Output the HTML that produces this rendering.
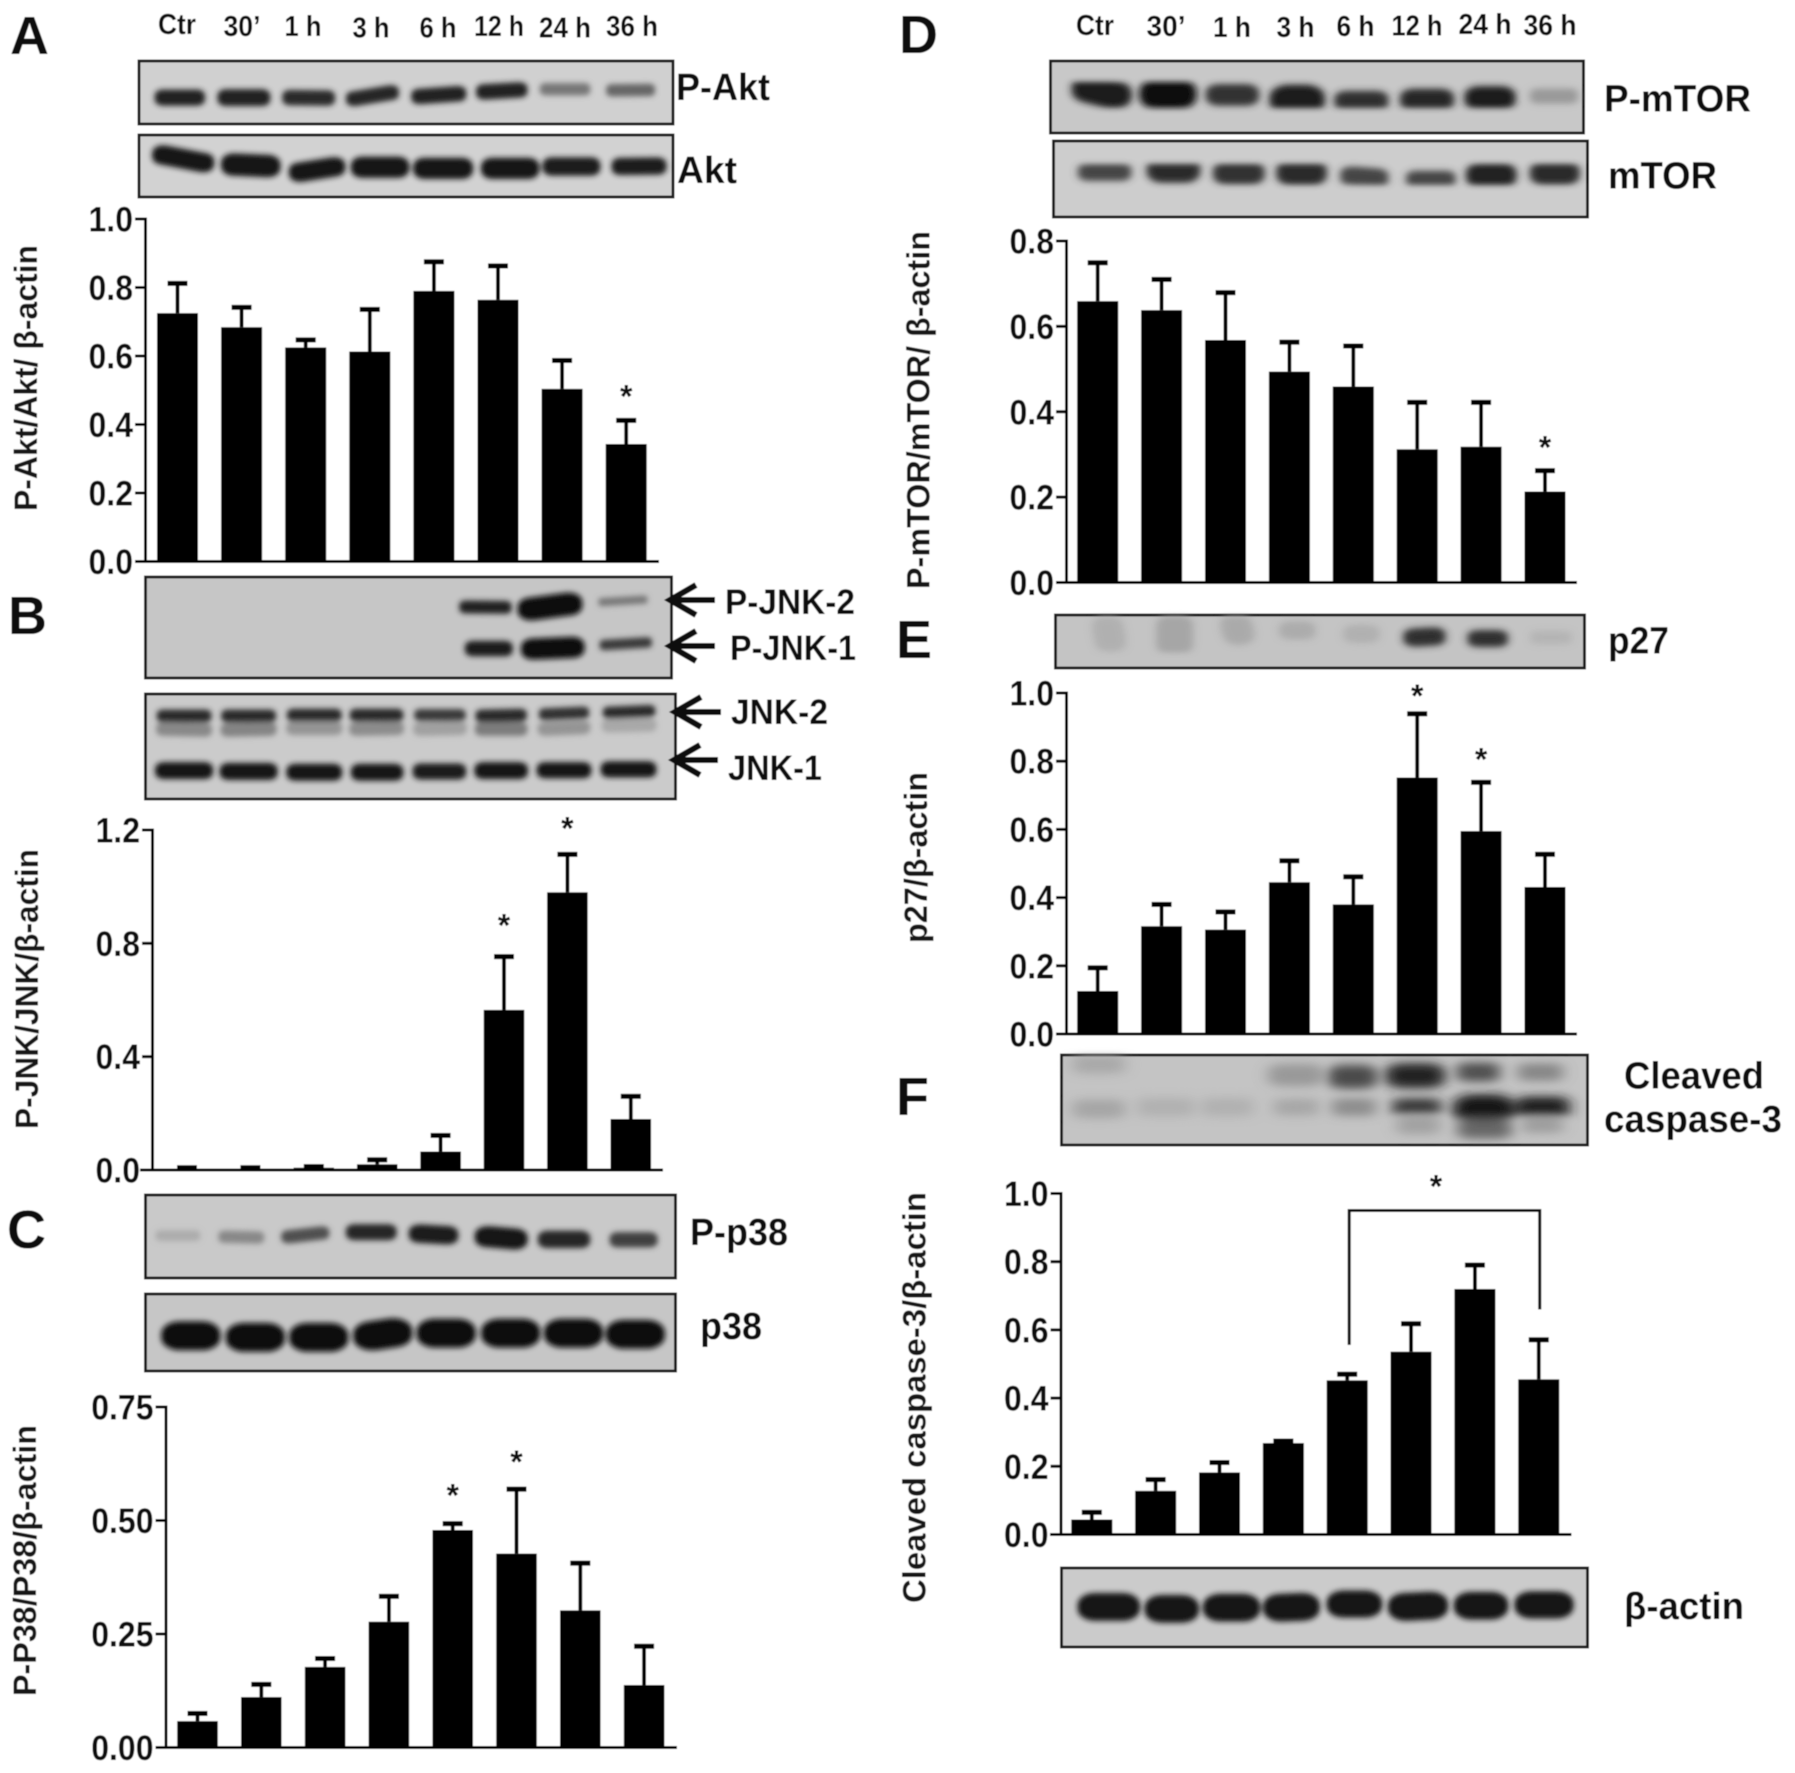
<!DOCTYPE html>
<html lang="en">
<head>
<meta charset="utf-8">
<title>Western blots and densitometry time course</title>
<style>
html,body{margin:0;padding:0;background:#fff;}
svg{display:block;}
text{font-family:"Liberation Sans",sans-serif;font-weight:bold;fill:#0a0a0a;}
.letter{font-size:54px;}
.lane{font-size:29px;text-anchor:middle;}
.prot{font-size:38px;}
.jnk{font-size:35px;}
.ytitle{font-size:32px;text-anchor:middle;fill:#141414;}
.blot{stroke:#1a1a1a;stroke-width:3;}
.bands line{stroke-linecap:round;}
.arrow{fill:none;stroke:#0a0a0a;stroke-width:6;}
</style>
</head>
<body>
<svg id="fig" width="1795" height="1773" viewBox="0 0 1795 1773" xmlns="http://www.w3.org/2000/svg">
<defs>
<filter id="soft" x="0" y="0" width="100%" height="100%" filterUnits="objectBoundingBox"><feGaussianBlur stdDeviation="0.6"/></filter>
<filter id="bandblur" x="-5%" y="-20%" width="110%" height="140%"><feMorphology operator="dilate" radius="1 2.2"/><feGaussianBlur stdDeviation="2.6"/></filter>
<filter id="extra" x="-10%" y="-40%" width="120%" height="180%"><feGaussianBlur stdDeviation="5"/></filter>
<filter id="extra-strong" x="-10%" y="-40%" width="120%" height="180%"><feGaussianBlur stdDeviation="11"/></filter>
<clipPath id="clip-f"><rect x="1062" y="1055" width="525" height="89"/></clipPath>
</defs>
<g id="root" filter="url(#soft)">
<rect x="0" y="0" width="1795" height="1773" fill="#fff"/>

<!-- Panel letters -->
<text class="letter" x="10" y="54">A</text>
<text class="letter" x="8" y="634">B</text>
<text class="letter" x="7" y="1248">C</text>
<text class="letter" x="899" y="53">D</text>
<text class="letter" x="896" y="658">E</text>
<text class="letter" x="896" y="1115">F</text>

<!-- Lane labels -->
<g>
<text class="lane" x="177" y="34" textLength="38" lengthAdjust="spacingAndGlyphs">Ctr</text>
<text class="lane" x="242" y="36" textLength="37" lengthAdjust="spacingAndGlyphs">30’</text>
<text class="lane" x="303" y="36" textLength="37" lengthAdjust="spacingAndGlyphs">1 h</text>
<text class="lane" x="371" y="37.5" textLength="37" lengthAdjust="spacingAndGlyphs">3 h</text>
<text class="lane" x="438" y="37.5" textLength="37" lengthAdjust="spacingAndGlyphs">6 h</text>
<text class="lane" x="499" y="36" textLength="50" lengthAdjust="spacingAndGlyphs">12 h</text>
<text class="lane" x="565" y="37.5" textLength="52" lengthAdjust="spacingAndGlyphs">24 h</text>
<text class="lane" x="632" y="36" textLength="52" lengthAdjust="spacingAndGlyphs">36 h</text>
</g>
<g>
<text class="lane" x="1095" y="35" textLength="38" lengthAdjust="spacingAndGlyphs">Ctr</text>
<text class="lane" x="1166" y="36" textLength="39" lengthAdjust="spacingAndGlyphs">30’</text>
<text class="lane" x="1232" y="37" textLength="38" lengthAdjust="spacingAndGlyphs">1 h</text>
<text class="lane" x="1295.5" y="37" textLength="38" lengthAdjust="spacingAndGlyphs">3 h</text>
<text class="lane" x="1355.5" y="36" textLength="38" lengthAdjust="spacingAndGlyphs">6 h</text>
<text class="lane" x="1417" y="35.5" textLength="51" lengthAdjust="spacingAndGlyphs">12 h</text>
<text class="lane" x="1485" y="34" textLength="53" lengthAdjust="spacingAndGlyphs">24 h</text>
<text class="lane" x="1550" y="35" textLength="53" lengthAdjust="spacingAndGlyphs">36 h</text>
</g>

<!-- Blot backgrounds -->
<rect class="blot" x="139" y="61" width="534" height="63" fill="#d0d0d0"/>
<rect class="blot" x="139" y="135" width="534" height="62" fill="#d2d2d2"/>
<rect class="blot" x="145.5" y="577" width="526" height="101" fill="#c6c6c6"/>
<rect class="blot" x="145.5" y="694" width="530" height="105" fill="#cbcbcb"/>
<rect class="blot" x="145.5" y="1195" width="530" height="83" fill="#c9c9c9"/>
<rect class="blot" x="145.5" y="1294" width="530" height="77" fill="#c6c6c6"/>
<rect class="blot" x="1050.5" y="61" width="533" height="72" fill="#c8c8c8"/>
<rect class="blot" x="1053.5" y="141" width="534" height="76" fill="#cdcdcd"/>
<rect class="blot" x="1055.5" y="615" width="529" height="53" fill="#c4c4c4"/>
<rect class="blot" x="1061.5" y="1055" width="526" height="90" fill="#c4c4c4"/>
<rect class="blot" x="1061.5" y="1568" width="526" height="79" fill="#cbcbcb"/>

<!-- Bands -->
<g filter="url(#bandblur)">
<g class="bands" transform="scale(.5102 .3827)">
<line x1="321" y1="255" x2="384" y2="255" stroke-width="32" stroke="#222"/>
<line x1="445" y1="255" x2="511" y2="255" stroke-width="34" stroke="#222"/>
<line x1="570" y1="255" x2="640" y2="256" stroke-width="30" stroke="#2a2a2a"/>
<line x1="694" y1="258" x2="766" y2="242" stroke-width="28" stroke="#262626"/>
<line x1="823" y1="252" x2="897" y2="245" stroke-width="30" stroke="#222"/>
<line x1="950" y1="240" x2="1017" y2="235" stroke-width="30" stroke="#222"/>
<line x1="1071" y1="233" x2="1144" y2="233" stroke-width="22" stroke="#777"/>
<line x1="1201" y1="236" x2="1271" y2="235" stroke-width="22" stroke="#666"/>
</g>
<g class="bands" transform="scale(.5102 .3827)">
<line x1="320" y1="405" x2="398" y2="425" stroke-width="40" stroke="#141414"/>
<line x1="459" y1="430" x2="524" y2="434" stroke-width="48" stroke="#141414"/>
<line x1="588" y1="450" x2="655" y2="436" stroke-width="40" stroke="#141414"/>
<line x1="712" y1="437" x2="778" y2="437" stroke-width="45" stroke="#141414"/>
<line x1="834" y1="440" x2="903" y2="440" stroke-width="45" stroke="#181818"/>
<line x1="967" y1="440" x2="1033" y2="440" stroke-width="45" stroke="#181818"/>
<line x1="1084" y1="435" x2="1156" y2="435" stroke-width="38" stroke="#1c1c1c"/>
<line x1="1218" y1="435" x2="1287" y2="434" stroke-width="35" stroke="#1c1c1c"/>
</g>
<g class="bands" transform="translate(0 560) scale(.5612 .4082)">
<line x1="831" y1="115" x2="899" y2="116" stroke-width="22" stroke="#222"/>
<line x1="947" y1="120" x2="1013" y2="108" stroke-width="46" stroke="#0e0e0e"/>
<line x1="1073" y1="103" x2="1147" y2="97" stroke-width="10" stroke="#777"/>
<line x1="844" y1="217" x2="898" y2="217" stroke-width="28" stroke="#1c1c1c"/>
<line x1="951" y1="218" x2="1019" y2="214" stroke-width="42" stroke="#0e0e0e"/>
<line x1="1078" y1="208" x2="1152" y2="202" stroke-width="16" stroke="#3a3a3a"/>
</g>
<g class="bands" transform="translate(0 560) scale(.5612 .4082)">
<line x1="292" y1="382" x2="364" y2="382" stroke-width="22" stroke="#2a2a2a"/>
<line x1="407" y1="382" x2="479" y2="382" stroke-width="22" stroke="#2a2a2a"/>
<line x1="524" y1="380" x2="596" y2="380" stroke-width="22" stroke="#2a2a2a"/>
<line x1="636" y1="380" x2="706" y2="380" stroke-width="22" stroke="#2a2a2a"/>
<line x1="750" y1="380" x2="818" y2="380" stroke-width="20" stroke="#3a3a3a"/>
<line x1="860" y1="382" x2="926" y2="380" stroke-width="22" stroke="#2a2a2a"/>
<line x1="972" y1="378" x2="1038" y2="374" stroke-width="20" stroke="#333"/>
<line x1="1086" y1="374" x2="1156" y2="370" stroke-width="20" stroke="#2a2a2a"/>
<line x1="292" y1="414" x2="364" y2="416" stroke-width="24" stroke="#888"/>
<line x1="407" y1="416" x2="479" y2="414" stroke-width="24" stroke="#848484"/>
<line x1="524" y1="412" x2="596" y2="412" stroke-width="24" stroke="#949494"/>
<line x1="636" y1="414" x2="706" y2="412" stroke-width="24" stroke="#8c8c8c"/>
<line x1="750" y1="414" x2="818" y2="412" stroke-width="24" stroke="#a0a0a0"/>
<line x1="860" y1="414" x2="926" y2="414" stroke-width="24" stroke="#7c7c7c"/>
<line x1="972" y1="414" x2="1038" y2="410" stroke-width="24" stroke="#949494"/>
<line x1="1086" y1="406" x2="1156" y2="404" stroke-width="24" stroke="#a8a8a8"/>
</g>
<g class="bands" transform="translate(0 560) scale(.5612 .4082)">
<line x1="294" y1="516" x2="362" y2="516" stroke-width="32" stroke="#161616"/>
<line x1="409" y1="518" x2="477" y2="518" stroke-width="32" stroke="#161616"/>
<line x1="528" y1="520" x2="592" y2="520" stroke-width="32" stroke="#161616"/>
<line x1="643" y1="520" x2="701" y2="520" stroke-width="32" stroke="#161616"/>
<line x1="752" y1="518" x2="814" y2="518" stroke-width="30" stroke="#1c1c1c"/>
<line x1="863" y1="516" x2="923" y2="516" stroke-width="32" stroke="#161616"/>
<line x1="973" y1="515" x2="1037" y2="515" stroke-width="30" stroke="#161616"/>
<line x1="1087" y1="513" x2="1153" y2="513" stroke-width="30" stroke="#161616"/>
</g>
<g class="bands" transform="translate(0 1180) scale(.5612 .3782)">
<line x1="288" y1="147" x2="346" y2="147" stroke-width="18" stroke="#acacac"/>
<line x1="402" y1="150" x2="458" y2="152" stroke-width="22" stroke="#888"/>
<line x1="515" y1="150" x2="573" y2="140" stroke-width="24" stroke="#505050"/>
<line x1="634" y1="138" x2="689" y2="138" stroke-width="32" stroke="#262626"/>
<line x1="749" y1="142" x2="796" y2="146" stroke-width="38" stroke="#1c1c1c"/>
<line x1="870" y1="150" x2="916" y2="156" stroke-width="45" stroke="#181818"/>
<line x1="978" y1="157" x2="1032" y2="157" stroke-width="36" stroke="#262626"/>
<line x1="1103" y1="158" x2="1155" y2="158" stroke-width="30" stroke="#404040"/>
</g>
<g class="bands" transform="translate(0 1180) scale(.5612 .3782)">
<line x1="322" y1="412" x2="358" y2="412" stroke-width="66" stroke="#111"/>
<line x1="437" y1="416" x2="473" y2="416" stroke-width="66" stroke="#111"/>
<line x1="550" y1="416" x2="586" y2="416" stroke-width="66" stroke="#111"/>
<line x1="664" y1="412" x2="700" y2="404" stroke-width="66" stroke="#111"/>
<line x1="777" y1="405" x2="813" y2="405" stroke-width="66" stroke="#111"/>
<line x1="892" y1="405" x2="928" y2="405" stroke-width="66" stroke="#111"/>
<line x1="1004" y1="405" x2="1040" y2="405" stroke-width="66" stroke="#111"/>
<line x1="1114" y1="408" x2="1150" y2="408" stroke-width="66" stroke="#111"/>
</g>
<g class="bands" filter="url(#extra)" transform="translate(880 0) scale(.5835 .3954)">
<line x1="360" y1="225" x2="400" y2="240" stroke-width="60" stroke="#1c1c1c"/>
<line x1="482" y1="238" x2="505" y2="238" stroke-width="72" stroke="#111"/>
<line x1="582" y1="240" x2="626" y2="240" stroke-width="45" stroke="#333"/>
<line x1="702" y1="252" x2="728" y2="252" stroke-width="66" stroke="#1c1c1c"/>
<line x1="800" y1="255" x2="850" y2="255" stroke-width="40" stroke="#2e2e2e"/>
<line x1="915" y1="252" x2="960" y2="252" stroke-width="45" stroke="#262626"/>
<line x1="1028" y1="248" x2="1063" y2="248" stroke-width="50" stroke="#1c1c1c"/>
<line x1="1129" y1="243" x2="1181" y2="243" stroke-width="28" stroke="#999"/>
</g>
<g class="bands" filter="url(#extra)" transform="translate(880 0) scale(.5835 .3954)">
<line x1="358" y1="435" x2="412" y2="435" stroke-width="35" stroke="#444"/>
<line x1="486" y1="430" x2="520" y2="430" stroke-width="55" stroke="#2a2a2a"/>
<line x1="596" y1="438" x2="634" y2="438" stroke-width="48" stroke="#333"/>
<line x1="708" y1="437" x2="737" y2="437" stroke-width="55" stroke="#2a2a2a"/>
<line x1="809" y1="445" x2="851" y2="450" stroke-width="38" stroke="#444"/>
<line x1="919" y1="453" x2="969" y2="453" stroke-width="32" stroke="#444"/>
<line x1="1033" y1="443" x2="1062" y2="443" stroke-width="55" stroke="#222"/>
<line x1="1140" y1="438" x2="1173" y2="438" stroke-width="50" stroke="#2a2a2a"/>
</g>
<g class="bands" filter="url(#extra)" transform="translate(880 600) scale(.5835 .3571)">
<line x1="390" y1="75" x2="395" y2="115" stroke-width="50" stroke="#b0b0b0"/>
<line x1="505" y1="75" x2="505" y2="120" stroke-width="60" stroke="#a6a6a6"/>
<line x1="610" y1="70" x2="615" y2="95" stroke-width="50" stroke="#aaa"/>
<line x1="705" y1="85" x2="725" y2="85" stroke-width="40" stroke="#acacac"/>
<line x1="815" y1="95" x2="835" y2="95" stroke-width="40" stroke="#b0b0b0"/>
<line x1="918" y1="105" x2="948" y2="102" stroke-width="40" stroke="#2e2e2e"/>
<line x1="1026" y1="108" x2="1057" y2="108" stroke-width="36" stroke="#2e2e2e"/>
<line x1="1128" y1="105" x2="1172" y2="105" stroke-width="25" stroke="#b4b4b4"/>
</g>
<g clip-path="url(#clip-f)">
<g class="bands" filter="url(#extra-strong)" transform="translate(880 600) scale(.5835 .3571)">
<line x1="350" y1="1300" x2="400" y2="1300" stroke-width="40" stroke="#a8a8a8"/>
<line x1="690" y1="1330" x2="735" y2="1330" stroke-width="50" stroke="#989898"/>
<line x1="795" y1="1335" x2="825" y2="1335" stroke-width="55" stroke="#484848"/>
<line x1="896" y1="1332" x2="939" y2="1332" stroke-width="58" stroke="#222"/>
<line x1="1008" y1="1322" x2="1042" y2="1322" stroke-width="40" stroke="#484848"/>
<line x1="1110" y1="1322" x2="1153" y2="1322" stroke-width="34" stroke="#808080"/>
<line x1="350" y1="1425" x2="400" y2="1425" stroke-width="40" stroke="#a4a4a4"/>
<line x1="460" y1="1420" x2="520" y2="1420" stroke-width="40" stroke="#b0b0b0"/>
<line x1="570" y1="1420" x2="620" y2="1420" stroke-width="40" stroke="#b0b0b0"/>
<line x1="692" y1="1420" x2="735" y2="1420" stroke-width="34" stroke="#a4a4a4"/>
<line x1="792" y1="1420" x2="832" y2="1420" stroke-width="35" stroke="#888"/>
<line x1="896" y1="1420" x2="944" y2="1420" stroke-width="36" stroke="#2e2e2e"/>
<line x1="905" y1="1470" x2="940" y2="1470" stroke-width="40" stroke="#a0a0a0"/>
<line x1="1018" y1="1425" x2="1052" y2="1425" stroke-width="70" stroke="#141414"/>
<line x1="1012" y1="1480" x2="1060" y2="1480" stroke-width="45" stroke="#666"/>
<line x1="1112" y1="1420" x2="1158" y2="1420" stroke-width="48" stroke="#1e1e1e"/>
<line x1="1115" y1="1470" x2="1155" y2="1470" stroke-width="30" stroke="#989898"/>
</g>
</g>
<g class="bands" transform="translate(880 1150) scale(.5835 .3973)">
<line x1="370" y1="1150" x2="414" y2="1150" stroke-width="60" stroke="#121212"/>
<line x1="485" y1="1155" x2="515" y2="1155" stroke-width="60" stroke="#121212"/>
<line x1="585" y1="1152" x2="620" y2="1152" stroke-width="60" stroke="#121212"/>
<line x1="688" y1="1152" x2="722" y2="1150" stroke-width="60" stroke="#121212"/>
<line x1="796" y1="1143" x2="830" y2="1143" stroke-width="58" stroke="#121212"/>
<line x1="902" y1="1150" x2="942" y2="1147" stroke-width="60" stroke="#121212"/>
<line x1="1015" y1="1147" x2="1045" y2="1147" stroke-width="60" stroke="#121212"/>
<line x1="1118" y1="1145" x2="1158" y2="1145" stroke-width="58" stroke="#121212"/>
</g>
</g>

<!-- Blot labels -->
<text class="prot" x="676" y="100" textLength="94" lengthAdjust="spacingAndGlyphs">P-Akt</text>
<text class="prot" x="677" y="183" textLength="60" lengthAdjust="spacingAndGlyphs">Akt</text>
<text class="jnk" x="725" y="614" textLength="130" lengthAdjust="spacingAndGlyphs">P-JNK-2</text>
<text class="jnk" x="730" y="660" textLength="126" lengthAdjust="spacingAndGlyphs">P-JNK-1</text>
<text class="jnk" x="731" y="724" textLength="97" lengthAdjust="spacingAndGlyphs">JNK-2</text>
<text class="jnk" x="728" y="780" textLength="94" lengthAdjust="spacingAndGlyphs">JNK-1</text>
<text class="prot" x="690" y="1245" textLength="98" lengthAdjust="spacingAndGlyphs">P-p38</text>
<text class="prot" x="700" y="1339" textLength="62" lengthAdjust="spacingAndGlyphs">p38</text>
<text class="prot" x="1604" y="111.5" textLength="147" lengthAdjust="spacingAndGlyphs">P-mTOR</text>
<text class="prot" x="1608" y="188.5" textLength="109" lengthAdjust="spacingAndGlyphs">mTOR</text>
<text class="prot" x="1608" y="653.5" textLength="61" lengthAdjust="spacingAndGlyphs">p27</text>
<text class="prot" x="1624" y="1088.5" textLength="140" lengthAdjust="spacingAndGlyphs">Cleaved</text>
<text class="prot" x="1604" y="1132" textLength="178" lengthAdjust="spacingAndGlyphs">caspase-3</text>
<text class="prot" x="1624" y="1619" textLength="120" lengthAdjust="spacingAndGlyphs" style="font-family:'Liberation Sans','DejaVu Sans',sans-serif">β-actin</text>

<!-- JNK arrows -->
<path class="arrow" d="M715 600H672M696 585L670 600L696 615"/>
<path class="arrow" d="M715 646H672M696 631L670 646L696 661"/>
<path class="arrow" d="M721 712H677M701 697L675 712L701 727"/>
<path class="arrow" d="M718 760H676M700 745L674 760L700 775"/>
</g>
</svg>
<script>
// ---- Chart data ----
const categories = ['Ctr', "30'", '1 h', '3 h', '6 h', '12 h', '24 h', '36 h'];

const aktTicks = ['0.0', '0.2', '0.4', '0.6', '0.8', '1.0'];
const aktValues = [0.725, 0.684, 0.625, 0.613, 0.79, 0.764, 0.504, 0.343];
const aktErrorTops = [0.812, 0.742, 0.647, 0.736, 0.875, 0.863, 0.587, 0.412];

const jnkTicks = ['0.0', '0.4', '0.8', '1.2'];
const jnkValues = [0.005, 0.005, 0.008, 0.02, 0.065, 0.565, 0.98, 0.18];
const jnkErrorTops = [0.008, 0.008, 0.012, 0.036, 0.122, 0.753, 1.114, 0.26];

const p38Ticks = ['0.00', '0.25', '0.50', '0.75'];
const p38Values = [0.058, 0.111, 0.1775, 0.277, 0.479, 0.427, 0.302, 0.1375];
const p38ErrorTops = [0.075, 0.139, 0.196, 0.333, 0.493, 0.569, 0.406, 0.223];

const mtorTicks = ['0.0', '0.2', '0.4', '0.6', '0.8'];
const mtorValues = [0.659, 0.638, 0.568, 0.494, 0.459, 0.312, 0.318, 0.213];
const mtorErrorTops = [0.749, 0.71, 0.679, 0.563, 0.554, 0.422, 0.422, 0.262];

const p27Ticks = ['0.0', '0.2', '0.4', '0.6', '0.8', '1.0'];
const p27Values = [0.126, 0.316, 0.306, 0.445, 0.38, 0.752, 0.595, 0.431];
const p27ErrorTops = [0.194, 0.38, 0.358, 0.508, 0.461, 0.939, 0.738, 0.527];

const caspaseTicks = ['0.0', '0.2', '0.4', '0.6', '0.8', '1.0'];
const caspaseValues = [0.044, 0.128, 0.182, 0.268, 0.452, 0.536, 0.72, 0.455];
const caspaseErrorTops = [0.065, 0.161, 0.211, 0.274, 0.47, 0.618, 0.79, 0.571];

const SVG_NS = 'http://www.w3.org/2000/svg';
const root = document.getElementById('root');

function make(tag, parent) {
  const el = document.createElementNS(SVG_NS, tag);
  parent.appendChild(el);
  return el;
}

function segment(parent, x, y, w, h) {
  const r = make('rect', parent);
  r.setAttribute('x', x);
  r.setAttribute('y', y);
  r.setAttribute('width', w);
  r.setAttribute('height', h);
  r.setAttribute('fill', '#000');
  return r;
}

function drawChart(opts) {
  const values = opts.values;
  const tops = opts.errorTops;
  const ticks = opts.ticks;
  const yMax = parseFloat(ticks[ticks.length - 1]);
  const yScale = function (v) { return opts.y0 + (opts.y1 - opts.y0) * (v / yMax); };
  const xScale = function (i) { return opts.firstCenter + opts.step * i; };

  const chart = make('g', root);
  
  

  categories.forEach(function (cat, i) {
    const cx = xScale(i);
    const bar = segment(chart, cx - opts.barWidth / 2, yScale(values[i]), opts.barWidth, opts.y0 - yScale(values[i]));
    
    

    const stem = segment(chart, cx - 1.9, yScale(tops[i]), 3.8, yScale(values[i]) - yScale(tops[i]));
    
    

    const cap = segment(chart, cx - 10, yScale(tops[i]) - 2.5, 20, 5);
    
    
  });

  const yAxis = segment(chart, opts.axisX - 1.5, opts.y1 - 1.5, 3, opts.y0 - opts.y1 + 3);
  
  

  const xAxis = segment(chart, opts.xAxisStart, opts.y0 - 1.5, opts.xAxisEnd - opts.xAxisStart, 3);
  
  

  ticks.forEach(function (label) {
    const ty = yScale(parseFloat(label));
    const tick = segment(chart, opts.axisX - 10.5, ty - 1.5, 10.5, 3);
    
    

    const t = make('text', chart);
    
    
    t.setAttribute('x', opts.axisX - 12.5);
    t.setAttribute('y', ty + 12.5);
    t.setAttribute('text-anchor', 'end');
    t.setAttribute('font-size', '35');
    t.setAttribute('textLength', ((label.length - 1) * 0.556 + 0.278) * 32);
    t.setAttribute('lengthAdjust', 'spacingAndGlyphs');
    t.textContent = label;
  });

  (opts.stars || []).forEach(function (s) {
    const star = make('text', chart);
    
    
    star.setAttribute('x', xScale(s[0]));
    star.setAttribute('y', yScale(tops[s[0]]) - s[1] + 15);
    star.setAttribute('text-anchor', 'middle');
    star.setAttribute('font-size', '32');
    star.textContent = '*';
  });

  const title = make('text', chart);
  
  
  title.setAttribute('class', 'ytitle');
  title.setAttribute('x', 0);
  title.setAttribute('y', 0);
  title.setAttribute('textLength', opts.titleLength);
  title.setAttribute('lengthAdjust', 'spacingAndGlyphs');
  title.setAttribute('transform', 'translate(' + opts.titleX + ' ' + opts.titleY + ') rotate(-90)');
  title.textContent = opts.title;

  if (opts.bracket) {
    const b = opts.bracket;
    const bracketPath = make('path', chart);
    
    
    bracketPath.setAttribute('fill', 'none');
    bracketPath.setAttribute('stroke', '#111');
    bracketPath.setAttribute('stroke-width', '3');
    bracketPath.setAttribute('d', 'M' + (xScale(b.from) + 2) + ' ' + yScale(b.leftEnd) + 'V' + yScale(b.top) + 'H' + (xScale(b.to) + 1) + 'V' + yScale(b.rightEnd));
    const bs = make('text', chart);
    
    
    bs.setAttribute('x', (xScale(b.from) + xScale(b.to)) / 2 - 7);
    bs.setAttribute('y', yScale(b.top) - 28 + 15);
    bs.setAttribute('text-anchor', 'middle');
    bs.setAttribute('font-size', '32');
    bs.textContent = '*';
  }
}

drawChart({ name: 'p-akt', values: aktValues, errorTops: aktErrorTops, ticks: aktTicks,
  axisX: 145.5, y0: 561.5, y1: 219, xAxisStart: 135, xAxisEnd: 659,
  firstCenter: 177.5, step: 64.1, barWidth: 41, stars: [[7, 28]],
  title: 'P-Akt/Akt/ β-actin', titleX: 37, titleY: 378, titleLength: 266 });

drawChart({ name: 'p-jnk', values: jnkValues, errorTops: jnkErrorTops, ticks: jnkTicks,
  axisX: 152.5, y0: 1170, y1: 830, xAxisStart: 140, xAxisEnd: 663,
  firstCenter: 187, step: 63.4, barWidth: 40.5, stars: [[5, 35], [6, 30]],
  title: 'P-JNK/JNK/β-actin', titleX: 38, titleY: 989, titleLength: 280 });

drawChart({ name: 'p-p38', values: p38Values, errorTops: p38ErrorTops, ticks: p38Ticks,
  axisX: 166, y0: 1747.5, y1: 1407, xAxisStart: 157, xAxisEnd: 677,
  firstCenter: 197.5, step: 63.8, barWidth: 40.5, stars: [[4, 32], [5, 31]],
  title: 'P-P38/P38/β-actin', titleX: 36, titleY: 1560.5, titleLength: 271 });

drawChart({ name: 'p-mtor', values: mtorValues, errorTops: mtorErrorTops, ticks: mtorTicks,
  axisX: 1066.5, y0: 582.5, y1: 241, xAxisStart: 1057, xAxisEnd: 1577,
  firstCenter: 1097.7, step: 63.9, barWidth: 41, stars: [[7, 27]],
  title: 'P-mTOR/mTOR/ β-actin', titleX: 929.5, titleY: 410, titleLength: 358 });

drawChart({ name: 'p27', values: p27Values, errorTops: p27ErrorTops, ticks: p27Ticks,
  axisX: 1066.5, y0: 1034, y1: 693, xAxisStart: 1057, xAxisEnd: 1577,
  firstCenter: 1097.7, step: 63.9, barWidth: 41, stars: [[5, 22], [6, 27]],
  title: 'p27/β-actin', titleX: 927, titleY: 857.5, titleLength: 171 });

drawChart({ name: 'cleaved-caspase-3', values: caspaseValues, errorTops: caspaseErrorTops, ticks: caspaseTicks,
  axisX: 1061, y0: 1534.5, y1: 1193.5, xAxisStart: 1050, xAxisEnd: 1571.5,
  firstCenter: 1091.8, step: 63.85, barWidth: 41,
  bracket: { from: 4, to: 7, top: 0.95, leftEnd: 0.556, rightEnd: 0.66 },
  title: 'Cleaved caspase-3/β-actin', titleX: 925.5, titleY: 1397.5, titleLength: 411 });
</script>
</body>
</html>
